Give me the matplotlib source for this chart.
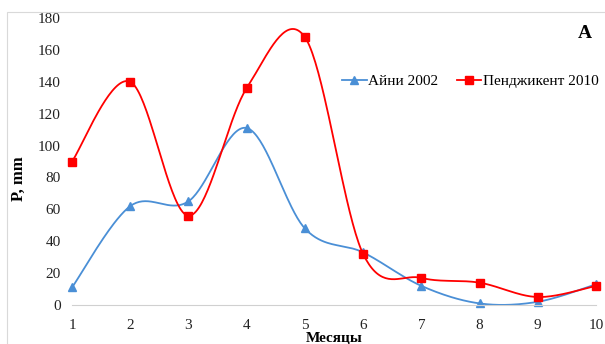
import matplotlib
matplotlib.use("Agg")
import matplotlib.pyplot as plt
import numpy as np
from matplotlib.patches import Rectangle

months = [1, 2, 3, 4, 5, 6, 7, 8, 9, 10]
aini_2002 = [11, 62, 65, 111, 48, 33, 12, 1, 2, 13]
penj_2010 = [90, 140, 56, 136, 168, 32, 17, 14, 5, 12]
y_ticks = [0, 20, 40, 60, 80, 100, 120, 140, 160, 180]

plt.rcParams["font.family"] = ["Liberation Serif", "DejaVu Serif"]


def smooth(x, y, n=40):
    """
    Excel-like smoothed line: Bezier segments with Catmull-Rom control points
    """
    x = np.asarray(x, dtype=float)
    y = np.asarray(y, dtype=float)
    px = np.concatenate([[x[0]], x, [x[-1]]])
    py = np.concatenate([[y[0]], y, [y[-1]]])
    xs, ys = [], []
    t = np.linspace(0, 1, n)
    for i in range(1, len(x)):
        p0 = np.array([px[i], py[i]])
        p3 = np.array([px[i + 1], py[i + 1]])
        c1 = p0 + (np.array([px[i + 1], py[i + 1]]) - np.array([px[i - 1], py[i - 1]])) / 6
        c2 = p3 - (np.array([px[i + 2], py[i + 2]]) - np.array([px[i], py[i]])) / 6
        b = ((1 - t) ** 3)[:, None] * p0 + (3 * (1 - t) ** 2 * t)[:, None] * c1 \
            + (3 * (1 - t) * t ** 2)[:, None] * c2 + (t ** 3)[:, None] * p3
        xs.extend(b[:, 0])
        ys.extend(b[:, 1])
    return xs, ys


fig = plt.figure(figsize=(6.05, 3.44), dpi=100)
ax = fig.add_axes([72 / 605, 39 / 344, 524 / 605, 287 / 344])

blue = "#4a8fd6"
red = "#ff0000"

sx, sy = smooth(months, aini_2002)
ax.plot(sx, sy, color=blue, lw=1.3, clip_on=False)
ax.plot(months, aini_2002, "^", color=blue, ms=6, clip_on=False)
sx, sy = smooth(months, penj_2010)
ax.plot(sx, sy, color=red, lw=1.3, clip_on=False)
ax.plot(months, penj_2010, "s", color=red, ms=5.5, clip_on=False)

# legend handles
ax.plot([], [], "-^", color=blue, ms=6, lw=1.3, label="Айни 2002")
ax.plot([], [], "-s", color=red, ms=5.5, lw=1.3, label="Пенджикент 2010")
handles, labels = ax.get_legend_handles_labels()
ax.legend(handles, labels, ncol=2, frameon=False, loc="center",
          bbox_to_anchor=(0.76, 0.78), fontsize=11, handlelength=1.6,
          handletextpad=0.1, columnspacing=1.2)

ax.set_xlim(1, 10)
ax.set_ylim(0, 180)
ax.set_xticks(months)
ax.set_yticks(y_ticks)
ax.tick_params(length=0, labelsize=11, colors="#222222")
ax.tick_params(axis="y", pad=8)
ax.tick_params(axis="x", pad=10)
for s in ["top", "right", "left"]:
    ax.spines[s].set_visible(False)
ax.spines["bottom"].set_color("#d0d0d0")

ax.set_ylabel("P, mm", fontsize=12, fontweight="bold")
ax.yaxis.set_label_coords(-0.086, 0.44)
ax.set_xlabel("Месяцы", fontsize=11, fontweight="bold")
ax.xaxis.set_label_coords(0.5, -0.092)

fig.text(585 / 605, 1 - 33 / 344, "A", fontsize=14, fontweight="bold",
         ha="center", va="center")

# outer chart border
fig.patches.append(Rectangle((7 / 605, -0.1), 1.0, 1 - 12 / 344 + 0.1,
                             transform=fig.transFigure, fill=False,
                             edgecolor="#d9d9d9", lw=0.8))

fig.savefig("out.png", dpi=100)
